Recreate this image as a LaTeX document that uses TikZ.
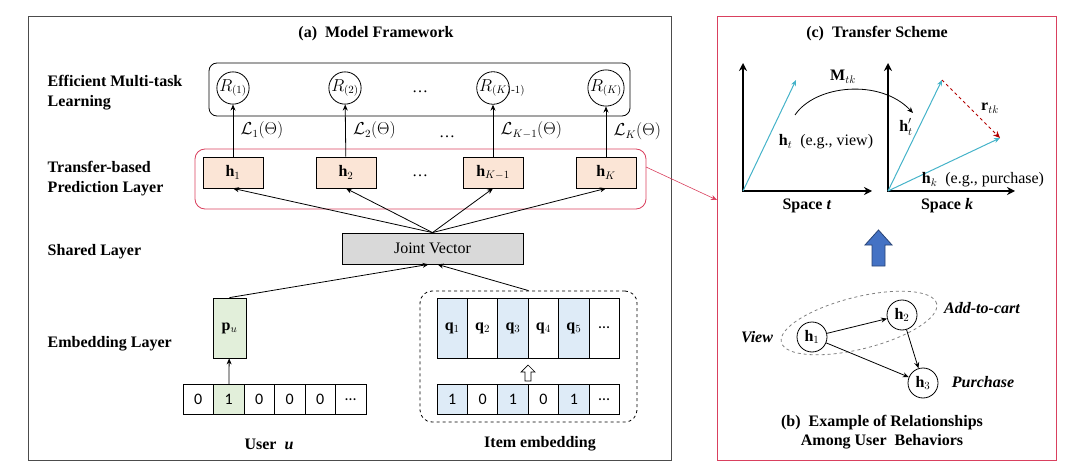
\documentclass[tikz,border=0pt]{standalone}
\usepackage{amsmath}
\usepackage{fontspec}
\setmainfont{Liberation Serif}
\newfontfamily\cellfont{Carlito}
\usetikzlibrary{positioning}
\usetikzlibrary{calc}
\usetikzlibrary{arrows.meta}
\usetikzlibrary{shapes.geometric}

\definecolor{peach}{HTML}{FBE5D6}
\definecolor{leaf}{HTML}{E2EFDA}
\definecolor{sky}{HTML}{DEEBF7}
\definecolor{jointgray}{HTML}{D9D9D9}
\definecolor{framered}{HTML}{D9405E}
\definecolor{vec}{HTML}{45B3C9}
\definecolor{blockblue}{HTML}{4472C4}

\tikzset{
  layer/.style={font=\bfseries, anchor=west, align=left},
  hbox/.style={draw, fill=peach, minimum width=60pt, minimum height=31pt},
  rnode/.style={draw, circle, minimum size=32pt, inner sep=0pt},
  cell/.style={draw, minimum width=30.5pt, minimum height=30pt, font=\cellfont},
  qcell/.style={draw, minimum width=30.4pt, minimum height=60pt},
  gnode/.style={draw, circle, minimum size=30pt, inner sep=0pt},
  arr/.style={-{Stealth[length=6pt,width=5pt]}},
  axis/.style={line width=2pt, {Stealth[length=8pt,width=8pt]}-{Stealth[length=8pt,width=8pt]}},
  vecarr/.style={vec, line width=1pt, -{Stealth[length=6pt,width=5pt]}},
}

\begin{document}
\fontsize{16}{19}\selectfont
\begin{tikzpicture}[x=1pt, y=-1pt, line width=0.8pt]
  \useasboundingbox (0,0) rectangle (1080,476);

  % (a) model framework
  \draw[black!70] (28,16) rectangle (671,460);
  \node[font=\bfseries] (atitle) at (376,34) {(a)\ \ Model Framework};
  \node[layer, font=\fontsize{16}{20}\selectfont\bfseries] (lmulti) at (42,93) {Efficient Multi-task\\Learning};
  \node[layer, font=\fontsize{16}{20}\selectfont\bfseries] (lpred) at (42,178.5) {Transfer-based\\Prediction Layer};
  \node[layer] (lshared) at (42,252) {Shared Layer};
  \node[layer] (lemb) at (42,344) {Embedding Layer};

  % multi-task learning
  \draw[rounded corners=8pt] (209,63) rectangle (630,116);
  \node[rnode] (r1) at (233,88) {$R_{(1)}$};
  \node[rnode] (r2) at (345,88) {$R_{(2)}$};
  \node[rnode] (rk1) at (493,88) {$R_{(K}$\rlap{$_{)\text{-}1)}$}};
  \node[rnode] (rk) at (606,88) {$R_{(K)}$};
  \node (rdots) at (420,92) {\dots};

  % transfer-based prediction
  \draw[framered, rounded corners=10pt] (195,149) rectangle (646,209);
  \node[hbox] (h1) at (233,172.5) {$\mathbf{h}_1$};
  \node[hbox] (h2) at (346,172.5) {$\mathbf{h}_2$};
  \node[hbox] (hk1) at (493,172.5) {$\mathbf{h}_{K-1}$};
  \node[hbox] (hk) at (606,172.5) {$\mathbf{h}_K$};
  \node (hdots) at (420,176) {\dots};

  \draw[arr] (h1) -- (r1) node[midway, right, xshift=2pt] {$\mathcal{L}_1(\Theta)$};
  \draw[arr] (h2) -- (r2) node[midway, right, xshift=2pt] {$\mathcal{L}_2(\Theta)$};
  \draw[arr] (hk1) -- (rk1) node[midway, right, xshift=2pt] {$\mathcal{L}_{K-1}(\Theta)$};
  \draw[arr] (hk) -- (rk) node[midway, right, xshift=2pt] {$\mathcal{L}_K(\Theta)$};
  \node (ldots) at (447,137) {\dots};

  % shared layer
  \node[draw, fill=jointgray, minimum width=181pt, minimum height=31pt] (joint) at (432.5,248.5) {Joint Vector};
  \foreach \h in {h1,h2,hk1,hk}
    \draw[arr] (joint.north) -- (\h.south);

  % user embedding
  \node[draw, fill=leaf, minimum width=33pt, minimum height=60pt] (pu) at (229.5,328) {$\mathbf{p}_u$};
  \foreach \v/\f [count=\i] in {0/white,1/leaf,0/white,0/white,0/white,\dots/white}
    \node[cell, fill=\f] (u\i) at ({183+30.5*(\i-0.5)},399.5) {\v};
  \draw[arr] (u2) -- (pu);
  \node[font=\bfseries] (user) at (269,444) {User\ \ \textit{u}};

  % item embedding
  \node[draw, dashed, rounded corners=12pt, minimum width=217pt, minimum height=131pt] (itembox) at (528.5,356.5) {};
  \foreach \v/\f [count=\i] in {1/sky,2/white,3/sky,4/white,5/sky}
    \node[qcell, fill=\f] (q\i) at ({437+30.4*(\i-0.5)},328) {$\mathbf{q}_{\v}$};
  \node[qcell, font=\cellfont] (q6) at ({437+30.4*5.5},328) {\dots};
  \foreach \v/\f [count=\i] in {1/sky,0/white,1/sky,0/white,1/sky,\dots/white}
    \node[cell, fill=\f, minimum width=30.4pt] (i\i) at ({437+30.4*(\i-0.5)},399.5) {\v};
  \coordinate (hollow) at (528,373);
  \draw[line width=0.7pt] (hollow) ++(0,-8) -- ++(7,7) -- ++(-4,0) -- ++(0,9) -- ++(-6,0) -- ++(0,-9) -- ++(-4,0) -- cycle;
  \node[font=\bfseries] (itemlab) at (540,444) {Item embedding};

  \draw[arr] (pu.north) -- ([xshift=-4pt]joint.south);
  \draw[arr] (itembox.north) -- ([xshift=5pt]joint.south);

  % link to transfer scheme
  \coordinate (tr) at (646,167);
  \coordinate (cin) at (717,200);
  \draw[framered, line width=0.6pt, arr] (tr) -- (cin);

  % (c) transfer scheme
  \draw[framered] (717,16) rectangle (1056,460);
  \node[font=\bfseries] (ctitle) at (877,34) {(c)\ \ Transfer Scheme};
  \coordinate (ot) at (743,191);
  \coordinate (ok) at (888,191);
  \draw[axis] (743,63) -- (ot) -- (872,191);
  \draw[axis] (888,63) -- (ok) -- (1015,191);
  \coordinate (httip) at (796,80);
  \coordinate (hptip) at (942,80);
  \coordinate (hktip) at (1000,138);
  \draw[vecarr] (ot) -- (httip);
  \draw[vecarr] (ok) -- (hptip);
  \draw[vecarr] (ok) -- (hktip);
  \draw[red!70!black, dashed, line width=1pt, -{Stealth[length=7pt,width=6pt]}] (hptip) -- (hktip);
  \node (htlab) at (826,142) {$\mathbf{h}_t$\ \ (e.g., view)};
  \node (hplab) at (906,127) {$\mathbf{h}'_t$};
  \node (rlab) at (990,108) {$\mathbf{r}_{tk}$};
  \node (hklab) at (983,180) {$\mathbf{h}_k$\ \ (e.g., purchase)};
  \node[font=\bfseries] (spt) at (807,206) {Space \textit{t}};
  \node[font=\bfseries] (spk) at (947,206) {Space \textit{k}};
  \coordinate (ms) at (795,115);
  \coordinate (me) at (913,113);
  \draw[arr] (ms) .. controls (815,85) and (880,78) .. (me);
  \node (mlab) at (843,77) {$\mathbf{M}_{tk}$};

  % big arrow
  \coordinate (bigup) at (878.5,230);
  \draw[blockblue!60!black, fill=blockblue] (bigup) -- ++(13.5,15) -- ++(-7,0) -- ++(0,21) -- ++(-13,0) -- ++(0,-21) -- ++(-7,0) -- cycle;

  % (b) relationships
  \node[draw, dashed, gray, ellipse, minimum width=160pt, minimum height=52pt, rotate=14] (grp) at (859,323) {};
  \node[gnode] (g1) at (812,337) {$\mathbf{h}_1$};
  \node[gnode] (g2) at (902,315) {$\mathbf{h}_2$};
  \node[gnode] (g3) at (923,383) {$\mathbf{h}_3$};
  \draw[arr] (g1) -- (g2);
  \draw[arr] (g2) -- (g3);
  \draw[arr] (g1) -- (g3);
  \node[font=\bfseries\itshape] (vlab) at (757,337) {View};
  \node[font=\bfseries\itshape] (alab) at (982,308) {Add-to-cart};
  \node[font=\bfseries\itshape] (plab) at (983,382) {Purchase};
  \node[font=\bfseries, align=center] (btitle) at (882,432.5) {(b)\ \ Example of Relationships\\Among User\ \ Behaviors};
\end{tikzpicture}
\end{document}
